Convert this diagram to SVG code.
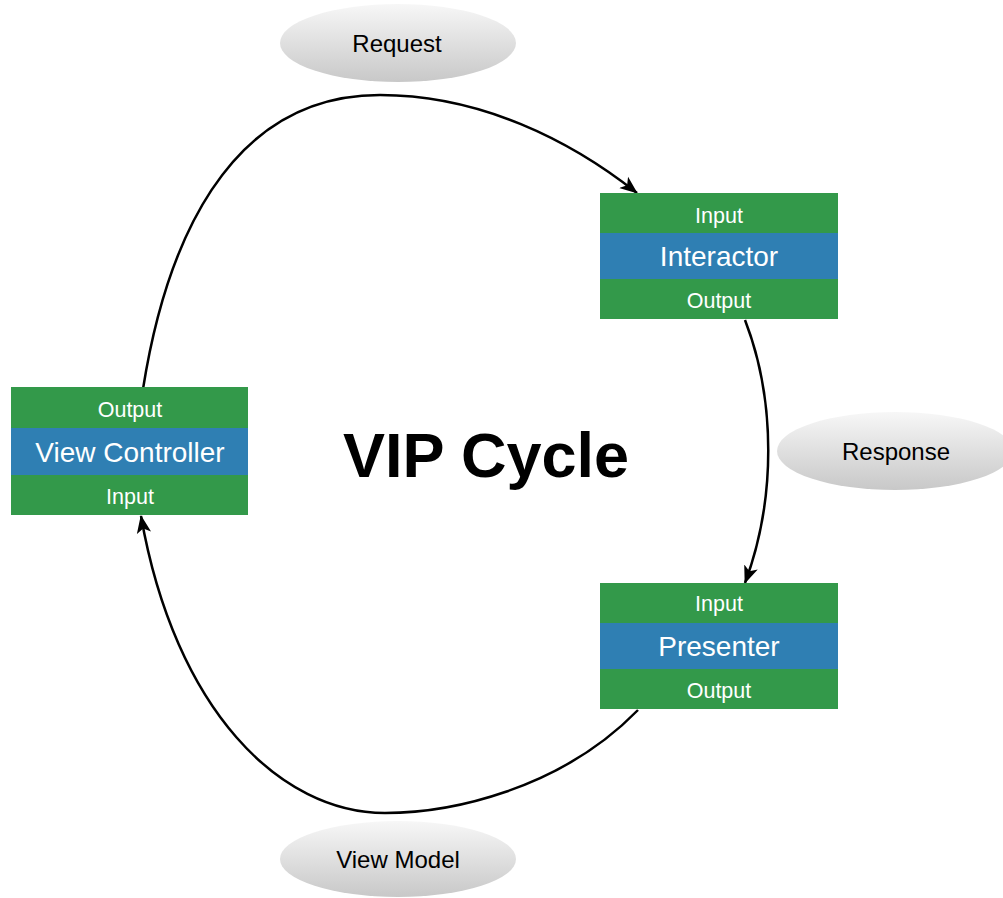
<svg xmlns="http://www.w3.org/2000/svg" width="1003" height="898" viewBox="0 0 1003 898">
<defs>
<linearGradient id="eg" x1="0" y1="0" x2="0" y2="1">
<stop offset="0" stop-color="#f7f7f7"/>
<stop offset="1" stop-color="#c8c8c8"/>
</linearGradient>
<marker id="ah" viewBox="0 0 10 10" refX="9.5" refY="5" markerWidth="18" markerHeight="18" orient="auto" markerUnits="userSpaceOnUse">
<path d="M0,1 L10,5 L0,9 L2.5,5 z" fill="#000"/>
</marker>
<style>
.g{fill:#33994a}
.b{fill:#2f7fb3}
.sm{font-family:"Helvetica Neue","Liberation Sans",Arial,sans-serif;font-size:21.5px;font-weight:300;fill:#fff;text-anchor:middle}
.lg{font-family:"Helvetica Neue","Liberation Sans",Arial,sans-serif;font-size:28px;fill:#fff;text-anchor:middle}
.el{fill:url(#eg)}
.et{font-family:"Helvetica Neue","Liberation Sans",Arial,sans-serif;font-size:24px;fill:#000;text-anchor:middle}
.c{fill:none;stroke:#000;stroke-width:2.5}
</style>
</defs>
<rect width="1003" height="898" fill="#fff"/>
<g id="connectors">
<path class="c" d="M143,389 C 165,250 225,95 380,95 C 480,95 570,140 637,193" marker-end="url(#ah)"/>
<path class="c" d="M745,320 C 776,400 776,500 745,583" marker-end="url(#ah)"/>
<path class="c" d="M638,710 C 560,790 450,813 385,813 C 280,813 175,710 141,516" marker-end="url(#ah)"/>
</g>
<g id="request">
<ellipse class="el" cx="398" cy="43" rx="118" ry="39"/>
<text class="et" x="397" y="52">Request</text>
</g>
<g id="response">
<ellipse class="el" cx="895" cy="451" rx="118" ry="39"/>
<text class="et" x="896" y="460">Response</text>
</g>
<g id="viewmodel">
<ellipse class="el" cx="398" cy="859" rx="118" ry="38"/>
<text class="et" x="398" y="868">View Model</text>
</g>
<g id="interactor">
<rect class="g" x="600" y="193" width="238" height="126"/>
<rect class="b" x="600" y="233" width="238" height="46"/>
<text class="sm" x="719" y="223">Input</text>
<text class="lg" x="719" y="266">Interactor</text>
<text class="sm" x="719" y="308">Output</text>
</g>
<g id="viewcontroller">
<rect class="g" x="11" y="387" width="237" height="128"/>
<rect class="b" x="11" y="428" width="237" height="47"/>
<text class="sm" x="130" y="417">Output</text>
<text class="lg" x="130" y="462">View Controller</text>
<text class="sm" x="130" y="504">Input</text>
</g>
<g id="presenter">
<rect class="g" x="600" y="583" width="238" height="126"/>
<rect class="b" x="600" y="623" width="238" height="46"/>
<text class="sm" x="719" y="611">Input</text>
<text class="lg" x="719" y="656">Presenter</text>
<text class="sm" x="719" y="698">Output</text>
</g>
<text x="486" y="477" font-family="Helvetica,'Liberation Sans',Arial,sans-serif" font-size="63" font-weight="bold" text-anchor="middle" fill="#000">VIP Cycle</text>
</svg>
